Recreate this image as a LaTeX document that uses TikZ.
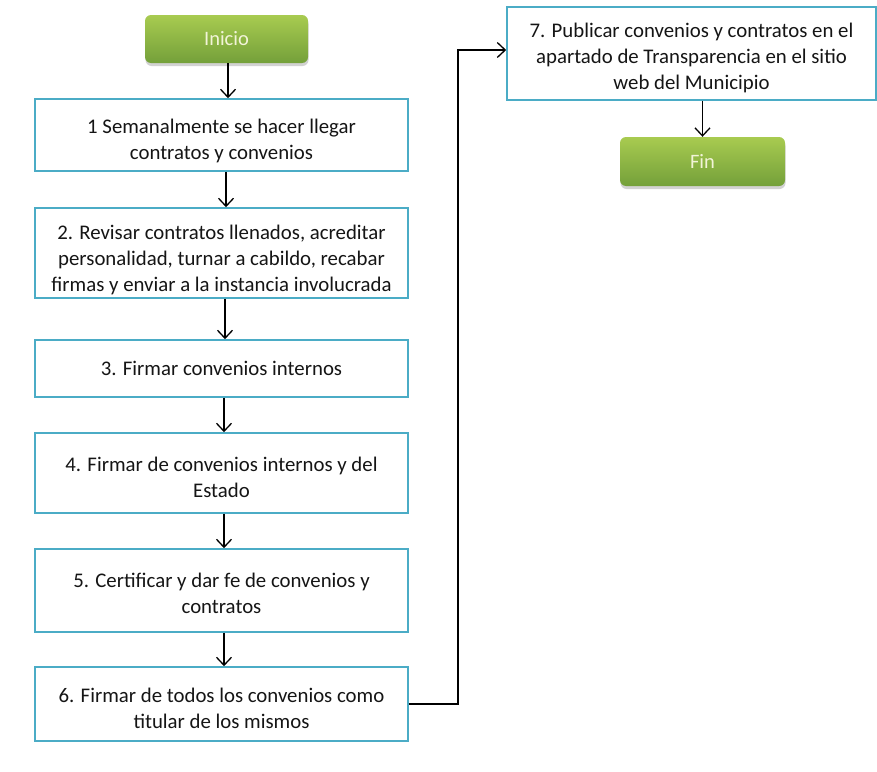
\documentclass[tikz,border=0pt]{standalone}
\usepackage{fontspec}
\setmainfont{Carlito}
\usetikzlibrary{arrows.meta,shadows}
\definecolor{boxblue}{HTML}{4BACC6}
\definecolor{gtop}{HTML}{A8CB50}
\definecolor{gbot}{HTML}{74A03A}
\definecolor{gtext}{HTML}{F2F4D8}
\definecolor{txt}{HTML}{151515}
\newcommand\lowstrut[1]{\rule{0pt}{#1pt}}
\tikzset{
  stepbox/.style={draw=boxblue, line width=1.6pt, fill=white, rectangle,
    align=center, text=txt, font=\fontsize{20.8}{26}\selectfont, inner sep=0pt},
  termbox/.style={rectangle, rounded corners=6pt, top color=gtop, bottom color=gbot,
    draw=none, text=gtext, font=\fontsize{20.5}{22}\selectfont,
    drop shadow={opacity=0.35, shadow xshift=0.5pt, shadow yshift=-3pt}},
  flow/.style={draw=black, line width=1.3pt, -{Straight Barb[length=8pt,width=15pt,line width=1.3pt]}}
}
\begin{document}
\begin{tikzpicture}[x=1pt,y=-1pt]
\useasboundingbox[fill=white] (0,0) rectangle (877,771);
\node[termbox, minimum width=163pt, minimum height=48pt] (ini) at (226.5,39) {Inicio};
\node[stepbox, minimum width=373pt, minimum height=72pt] (b1) at (221.5,135) {\lowstrut{27}1 Semanalmente se hacer llegar\\contratos y convenios};
\node[stepbox, minimum width=373pt, minimum height=90pt] (b2) at (221.5,253) {\lowstrut{29}2. Revisar contratos llenados, acreditar\\personalidad, turnar a cabildo, recabar\\firmas y enviar a la instancia involucrada};
\node[stepbox, minimum width=373pt, minimum height=57pt] (b3) at (221.5,368.5) {3. Firmar convenios internos};
\node[stepbox, minimum width=373pt, minimum height=80pt] (b4) at (221.5,473) {\lowstrut{24}4. Firmar de convenios internos y del\\Estado};
\node[stepbox, minimum width=373pt, minimum height=83pt] (b5) at (221.5,590.5) {\lowstrut{21}5. Certificar y dar fe de convenios y\\contratos};
\node[stepbox, minimum width=373pt, minimum height=74pt] (b6) at (221.5,704) {\lowstrut{23}6. Firmar de todos los convenios como\\titular de los mismos};
\node[stepbox, minimum width=369pt, minimum height=93pt] (b7) at (691.5,53.5) {\lowstrut{23}7. Publicar convenios y contratos en el\\apartado de Transparencia en el sitio\\web del Municipio};
\node[termbox, minimum width=165pt, minimum height=49pt] (fin) at (702.5,161.5) {Fin};
\coordinate (c1) at (458,704);
\coordinate (c2) at (458,50);
\draw[flow] (ini.south -| 228,0) -- (b1.north -| 228,0);
\draw[flow] (b1.south -| 226,0) -- (b2.north -| 226,0);
\draw[flow] (b2.south -| 225,0) -- (b3.north -| 225,0);
\draw[flow] (b3.south -| 224,0) -- (b4.north -| 224,0);
\draw[flow] (b4.south -| 224,0) -- (b5.north -| 224,0);
\draw[flow] (b5.south -| 224,0) -- (b6.north -| 224,0);
\draw[flow] (b6.east) -- (c1) -- (c2) -- (c2 -| b7.west);
\draw[flow] (b7.south -| fin.north) -- (fin.north);
\end{tikzpicture}
\end{document}
